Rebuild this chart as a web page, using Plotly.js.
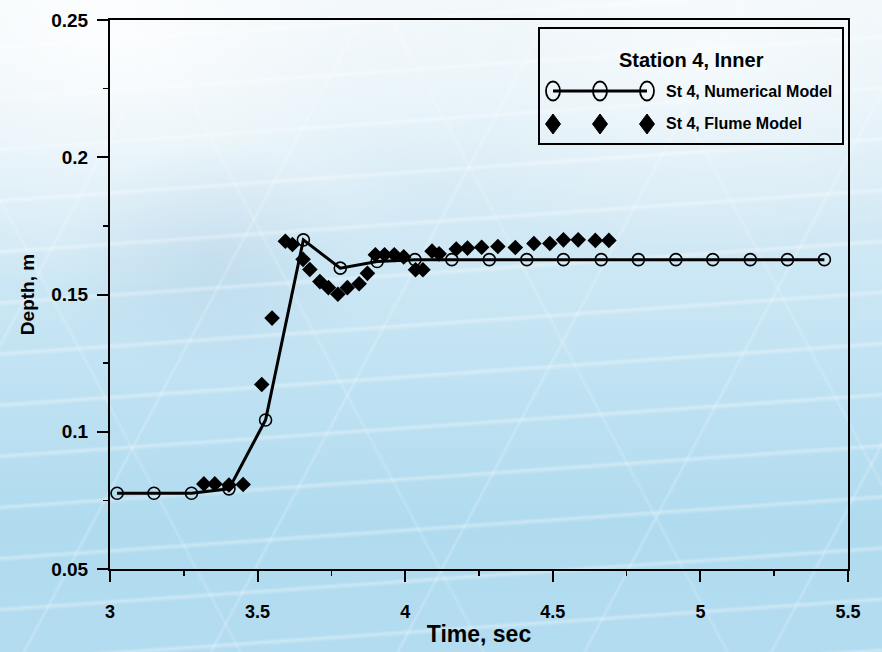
<!DOCTYPE html>
<html>
<head>
<meta charset="utf-8">
<script src="https://cdn.plot.ly/plotly-3.0.1.min.js"></script>
<style>
  html, body { margin: 0; padding: 0; }
  body {
    width: 882px; height: 652px; overflow: hidden;
    background:
      repeating-linear-gradient(176deg, rgba(255,255,255,0) 0px, rgba(255,255,255,0) 44px, rgba(255,255,255,0.32) 47px, rgba(255,255,255,0) 51px),
      repeating-linear-gradient(118deg, rgba(255,255,255,0) 0px, rgba(255,255,255,0) 160px, rgba(255,255,255,0.22) 162px, rgba(255,255,255,0) 165px),
      repeating-linear-gradient(62deg, rgba(255,255,255,0) 0px, rgba(255,255,255,0) 210px, rgba(255,255,255,0.18) 212px, rgba(255,255,255,0) 215px),
      radial-gradient(ellipse 150px 120px at 24% 40%, rgba(150,185,215,0.22), rgba(150,185,215,0) 100%),
      radial-gradient(ellipse 420px 260px at 12% 5%, rgba(255,255,255,0.85), rgba(255,255,255,0) 100%),
      radial-gradient(ellipse 380px 200px at 80% 8%, rgba(255,255,255,0.6), rgba(255,255,255,0) 100%),
      linear-gradient(180deg, #eef6fa 0%, #d9ecf6 25%, #c2e3f3 55%, #b0dbef 80%, #b3dcf0 100%);
  }
  #chart { width: 882px; height: 652px; }
</style>
</head>
<body>
<div id="chart"></div>
<script>
// Station 4 (inner) water depth: numerical model vs. flume measurements
const numTime  = [3.024, 3.149, 3.276, 3.403, 3.527, 3.655, 3.780, 3.905, 4.033, 4.158,
                  4.285, 4.412, 4.536, 4.664, 4.790, 4.917, 5.042, 5.169, 5.295, 5.420];
const numDepth = [0.0776, 0.0776, 0.0776, 0.0792, 0.1043, 0.1699, 0.1596, 0.1620, 0.1627, 0.1627,
                  0.1627, 0.1627, 0.1627, 0.1627, 0.1627, 0.1627, 0.1627, 0.1627, 0.1627, 0.1627];

const flumeTime  = [3.318, 3.355, 3.403, 3.451, 3.514, 3.549, 3.594, 3.618, 3.654, 3.677,
                    3.711, 3.740, 3.772, 3.804, 3.844, 3.872, 3.899, 3.930, 3.963, 3.995,
                    4.035, 4.060, 4.091, 4.115, 4.173, 4.211, 4.259, 4.314, 4.373, 4.436,
                    4.490, 4.536, 4.586, 4.644, 4.690];
const flumeDepth = [0.0810, 0.0810, 0.0806, 0.0808, 0.1172, 0.1414, 0.1694, 0.1682, 0.1628, 0.1591,
                    0.1547, 0.1525, 0.1501, 0.1525, 0.1539, 0.1577, 0.1645, 0.1645, 0.1645, 0.1637,
                    0.1590, 0.1590, 0.1658, 0.1648, 0.1666, 0.1669, 0.1672, 0.1675, 0.1671, 0.1686,
                    0.1686, 0.1699, 0.1699, 0.1697, 0.1697];

const xTicks = [3, 3.5, 4, 4.5, 5, 5.5];
const xTickText = ['3', '3.5', '4', '4.5', '5', '5.5'];
const yTicks = [0.05, 0.1, 0.15, 0.2, 0.25];
const yTickText = ['0.05', '0.1', '0.15', '0.2', '0.25'];

const legendTitle = 'Station 4, Inner';
const seriesNames = ['St 4, Numerical Model', 'St 4, Flume Model'];

const FONT = '"Liberation Sans", Arial, sans-serif';

const traces = [
  {
    x: flumeTime, y: flumeDepth, name: seriesNames[1],
    type: 'scatter', mode: 'markers',
    marker: { symbol: 'diamond', size: 12, color: '#000' },
    showlegend: false, cliponaxis: false
  },
  {
    x: numTime, y: numDepth, name: seriesNames[0],
    type: 'scatter', mode: 'lines+markers',
    line: { color: '#000', width: 3 },
    marker: { symbol: 'circle-open', size: 12, color: '#000', line: { width: 1.6, color: '#000' } },
    showlegend: false, cliponaxis: false
  }
];

// legend block drawn in paper coordinates (plot area spans 110..848 x 20..569 px)
const px = v => (v - 110) / 738;
const py = v => (569 - v) / 549;
const symX = [553, 600, 647];
const rowY = [91, 124];

const shapes = [
  { type: 'rect', xref: 'paper', yref: 'paper', x0: px(539), x1: px(843), y0: py(144), y1: py(28),
    line: { color: '#000', width: 2 }, fillcolor: 'rgba(0,0,0,0)', layer: 'above' },
  { type: 'line', xref: 'paper', yref: 'paper', x0: px(symX[0]), x1: px(symX[2]), y0: py(rowY[0]), y1: py(rowY[0]),
    line: { color: '#000', width: 3 }, layer: 'above' }
];
symX.forEach(sx => {
  shapes.push({ type: 'circle', xref: 'paper', yref: 'paper', xsizemode: 'pixel', ysizemode: 'pixel',
    xanchor: px(sx), yanchor: py(rowY[0]), x0: -7, x1: 7, y0: -9.5, y1: 9.5,
    line: { color: '#000', width: 1.8 }, fillcolor: 'rgba(0,0,0,0)', layer: 'above' });
  shapes.push({ type: 'path', xref: 'paper', yref: 'paper', xsizemode: 'pixel', ysizemode: 'pixel',
    xanchor: px(sx), yanchor: py(rowY[1]), path: 'M0,10 L7.5,0 L0,-10 L-7.5,0 Z',
    line: { color: '#000', width: 1 }, fillcolor: '#000', layer: 'above' });
});

const annotations = [
  { xref: 'paper', yref: 'paper', x: px(691), y: py(60), text: '<b>' + legendTitle + '</b>',
    showarrow: false, xanchor: 'center', yanchor: 'middle', font: { family: FONT, size: 20, color: '#000' } },
  { xref: 'paper', yref: 'paper', x: px(664), y: py(rowY[0]), text: '<b>' + seriesNames[0] + '</b>',
    showarrow: false, xanchor: 'left', yanchor: 'middle', font: { family: FONT, size: 16, color: '#000' } },
  { xref: 'paper', yref: 'paper', x: px(664), y: py(rowY[1]), text: '<b>' + seriesNames[1] + '</b>',
    showarrow: false, xanchor: 'left', yanchor: 'middle', font: { family: FONT, size: 16, color: '#000' } }
];

const layout = {
  width: 882, height: 652,
  margin: { l: 110, r: 34, t: 20, b: 83 },
  paper_bgcolor: 'rgba(0,0,0,0)', plot_bgcolor: 'rgba(0,0,0,0)',
  showlegend: false,
  font: { family: FONT, color: '#000' },
  xaxis: {
    range: [3, 5.5], tickvals: xTicks, ticktext: xTickText,
    showgrid: false, zeroline: false,
    showline: true, linecolor: '#000', linewidth: 2, mirror: true,
    ticks: 'outside', ticklen: 11, tickwidth: 2, tickcolor: '#000',
    ticklabelstandoff: 14,
    minor: { dtick: 0.25, ticks: 'outside', ticklen: 5, tickwidth: 1.5, tickcolor: '#000', showgrid: false },
    tickfont: { family: FONT, size: 18, weight: 'bold' },
    title: { text: '<b>Time, sec</b>', font: { family: FONT, size: 23 }, standoff: 5 }
  },
  yaxis: {
    range: [0.05, 0.25], tickvals: yTicks, ticktext: yTickText,
    showgrid: false, zeroline: false,
    showline: true, linecolor: '#000', linewidth: 2, mirror: true,
    ticks: 'outside', ticklen: 11, tickwidth: 2, tickcolor: '#000',
    ticklabelstandoff: 5,
    minor: { dtick: 0.025, ticks: 'outside', ticklen: 5, tickwidth: 1.5, tickcolor: '#000', showgrid: false },
    tickfont: { family: FONT, size: 19, weight: 'bold' },
    title: { text: '<b>Depth, m</b>', font: { family: FONT, size: 19 }, standoff: 12 }
  },
  shapes: shapes,
  annotations: annotations
};

Plotly.newPlot('chart', traces, layout, { staticPlot: true, displayModeBar: false });
</script>
</body>
</html>
